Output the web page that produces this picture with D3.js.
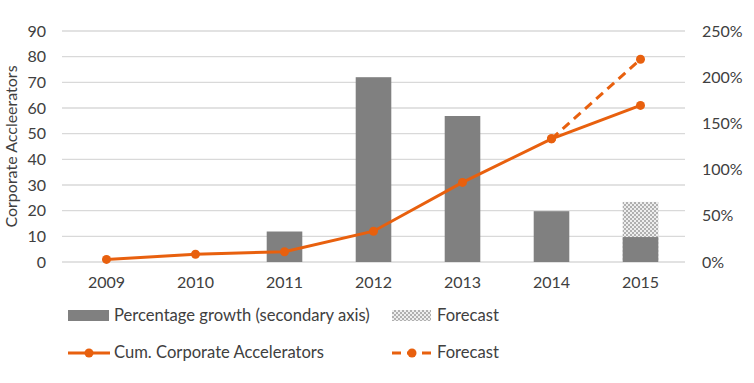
<!DOCTYPE html>
<html><head><meta charset="utf-8">
<script src="https://cdn.jsdelivr.net/npm/d3@7"></script>
<style>body{margin:0;background:#fff}svg{display:block}text{font-family:Lato,"Open Sans","Liberation Sans",sans-serif;fill:#404040}</style>
</head><body>
<script>
const years = ["2009","2010","2011","2012","2013","2014","2015"];
const growthPct = [null, null, 33, 200, 158, 55, 27];
const growthForecastPct = [null, null, null, null, null, null, 65];
const cumAccelerators = [1, 3, 4, 12, 31, 48, 61];
const cumForecast = [null, null, null, null, null, 48, 79];
const leftTicks = [0,10,20,30,40,50,60,70,80,90];
const rightTicks = [0,50,100,150,200,250];

const W=754,H=383,FS="16px",LFS="16.6px";
const svg=d3.select("body").append("svg").attr("width",W).attr("height",H);
const defs=svg.append("defs");
const pat=defs.append("pattern").attr("id","chk").attr("width",4).attr("height",4).attr("patternUnits","userSpaceOnUse");
pat.append("rect").attr("width",4).attr("height",4).attr("fill","#eeeeee");
pat.append("rect").attr("width",2).attr("height",2).attr("fill","#b0b0b0");
pat.append("rect").attr("x",2).attr("y",2).attr("width",2).attr("height",2).attr("fill","#b0b0b0");

const L=62,R=685,T=31,B=262;
const x=d3.scaleBand().domain(years).range([L,R]).paddingInner(0.6).paddingOuter(0.3);
const xc=d=>x(d)+x.bandwidth()/2;
const yL=d3.scaleLinear().domain([0,90]).range([B,T]);
const yR=d3.scaleLinear().domain([0,250]).range([B,T]);

svg.append("g").selectAll("line").data(leftTicks).join("line")
 .attr("x1",L).attr("x2",R).attr("y1",d=>yL(d)).attr("y2",d=>yL(d))
 .attr("stroke","#d9d9d9").attr("stroke-width",1.3);

const la=svg.append("g").attr("transform",`translate(${L},0)`).call(d3.axisLeft(yL).tickValues(leftTicks).tickSize(0).tickPadding(16));
la.select(".domain").remove();
la.selectAll("text").style("font-size",FS).attr("fill","#404040");
const ra=svg.append("g").attr("transform",`translate(${R},0)`).call(d3.axisRight(yR).tickValues(rightTicks).tickFormat(d=>d+"%").tickSize(0).tickPadding(17));
ra.select(".domain").remove();
ra.selectAll("text").style("font-size",FS).attr("fill","#404040");
const xa=svg.append("g").attr("transform",`translate(0,${B})`).call(d3.axisBottom(x).tickSize(0).tickPadding(15));
xa.select(".domain").remove();
xa.selectAll("text").style("font-size",FS).attr("fill","#404040");

svg.append("text").attr("transform",`translate(17,${(T+B)/2}) rotate(-90)`).attr("text-anchor","middle").style("font-size",FS).text("Corporate Accleerators");

svg.append("g").selectAll("rect").data(years.map((y,i)=>({y,f:growthForecastPct[i]})).filter(d=>d.f!=null)).join("rect")
 .attr("x",d=>x(d.y)).attr("width",x.bandwidth()).attr("y",d=>yR(d.f)).attr("height",d=>yR(0)-yR(d.f)).attr("fill","url(#chk)");
svg.append("g").selectAll("rect").data(years.map((y,i)=>({y,v:growthPct[i]})).filter(d=>d.v!=null)).join("rect")
 .attr("x",d=>x(d.y)).attr("width",x.bandwidth()).attr("y",d=>yR(d.v)).attr("height",d=>yR(0)-yR(d.v)).attr("fill","#808080");

const orange="#e8600e";
const fd=years.map((y,i)=>({y,v:cumForecast[i]})).filter(d=>d.v!=null);
svg.append("path").datum(fd).attr("d",d3.line().x(d=>xc(d.y)).y(d=>yL(d.v))).attr("fill","none").attr("stroke",orange).attr("stroke-width",3).attr("stroke-dasharray","9,6");
svg.append("g").selectAll("circle").data(fd).join("circle").attr("cx",d=>xc(d.y)).attr("cy",d=>yL(d.v)).attr("r",4.5).attr("fill",orange);
const cd=years.map((y,i)=>({y,v:cumAccelerators[i]}));
svg.append("path").datum(cd).attr("d",d3.line().x(d=>xc(d.y)).y(d=>yL(d.v))).attr("fill","none").attr("stroke",orange).attr("stroke-width",3);
svg.append("g").selectAll("circle").data(cd).join("circle").attr("cx",d=>xc(d.y)).attr("cy",d=>yL(d.v)).attr("r",4.5).attr("fill",orange);

const lg=svg.append("g");
lg.append("rect").attr("x",68).attr("y",310).attr("width",41).attr("height",11).attr("fill","#808080");
lg.append("text").attr("x",114).attr("y",321).style("font-size",LFS).text("Percentage growth (secondary axis)");
lg.append("rect").attr("x",392).attr("y",310).attr("width",39).attr("height",11).attr("fill","url(#chk)");
lg.append("text").attr("x",437).attr("y",321).style("font-size",LFS).text("Forecast");
lg.append("line").attr("x1",68).attr("x2",110).attr("y1",353).attr("y2",353).attr("stroke",orange).attr("stroke-width",3);
lg.append("circle").attr("cx",89).attr("cy",353).attr("r",4.5).attr("fill",orange);
lg.append("text").attr("x",114).attr("y",358).style("font-size",LFS).text("Cum. Corporate Accelerators");
lg.append("line").attr("x1",392).attr("x2",432).attr("y1",353).attr("y2",353).attr("stroke",orange).attr("stroke-width",3).attr("stroke-dasharray","9,6");
lg.append("circle").attr("cx",412).attr("cy",353).attr("r",4.5).attr("fill",orange);
lg.append("text").attr("x",437).attr("y",358).style("font-size",LFS).text("Forecast");
</script>
</body></html>
